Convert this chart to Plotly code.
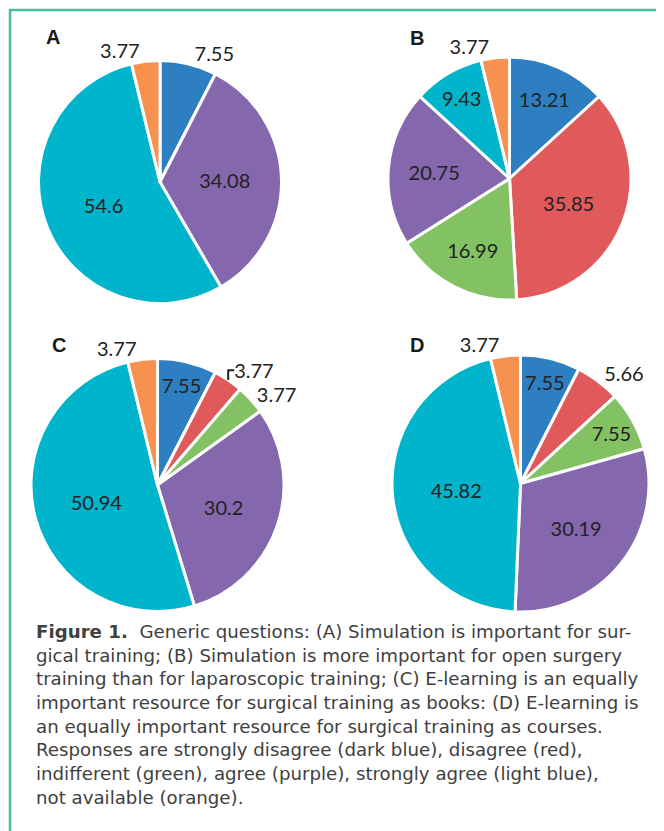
import plotly.graph_objects as go

# Page body has an 8px default margin; figure coordinates are page coordinates minus OFF
OFF = 8
W, H = 656, 823

categories = ["Strongly disagree", "Disagree", "Indifferent", "Agree", "Strongly agree", "Not available"]
colors = ["#2E7FC2", "#E05A5B", "#83C262", "#8467AC", "#00B4CB", "#F6914F"]

values_A = [7.55, 0, 0, 34.08, 54.6, 3.77]
values_B = [13.21, 35.85, 16.99, 20.75, 9.43, 3.77]
values_C = [7.55, 3.77, 3.77, 30.2, 50.94, 3.77]
values_D = [7.55, 5.66, 7.55, 30.19, 45.82, 3.77]

panel_letters = ["A", "B", "C", "D"]

caption_lines = [
    "<b>Figure 1.</b>  Generic questions: (A) Simulation is important for sur-",
    "gical training; (B) Simulation is more important for open surgery",
    "training than for laparoscopic training; (C) E-learning is an equally",
    "important resource for surgical training as books: (D) E-learning is",
    "an equally important resource for surgical training as courses.",
    "Responses are strongly disagree (dark blue), disagree (red),",
    "indifferent (green), agree (purple), strongly agree (light blue),",
    "not available (orange).",
]

pos_A = ["outside", "inside", "inside", "inside", "inside", "outside"]
pos_B = ["inside", "inside", "inside", "inside", "inside", "outside"]
pos_C = ["inside", "outside", "outside", "inside", "inside", "outside"]
pos_D = ["inside", "outside", "inside", "inside", "inside", "outside"]


def px(x):
    return (x - OFF) / W


def py(y):
    return 1 - (y - OFF) / H


def dom(cx, cy, r):
    return dict(x=[px(cx - r), px(cx + r)], y=[py(cy + r), py(cy - r)])


panels = [
    (values_A, pos_A, dom(160, 182, 121.5)),
    (values_B, pos_B, dom(509.5, 178.5, 121.5)),
    (values_C, pos_C, dom(157.5, 485, 126.5)),
    (values_D, pos_D, dom(520.5, 483.5, 128.5)),
]

fig = go.Figure()
for vals, pos, d in panels:
    fig.add_trace(go.Pie(
        labels=categories,
        values=vals,
        text=[str(v) if v > 0 else "" for v in vals],
        texttemplate="%{text}",
        textposition=pos,
        insidetextorientation="horizontal",
        sort=False,
        direction="clockwise",
        rotation=0,
        marker=dict(colors=colors, line=dict(color="white", width=3)),
        textfont=dict(family="Lato", size=20, color="#222222"),
        domain=d,
        showlegend=False,
        hoverinfo="label+value",
    ))

letter_pos = [(52.5, 37), (417, 38), (58.5, 344.5), (416.5, 344.5)]
annotations = []
for L, (x, y) in zip(panel_letters, letter_pos):
    annotations.append(dict(
        text=L, x=px(x), y=py(y), xref="paper", yref="paper",
        showarrow=False, xanchor="center", yanchor="middle",
        font=dict(family="Liberation Sans", size=20, color="#1a1a1a", weight="bold"),
    ))

annotations.append(dict(
    text="<br>".join(caption_lines), x=px(34), y=py(619),
    xref="paper", yref="paper", showarrow=False, xanchor="left", yanchor="top",
    align="left",
    font=dict(family="DejaVu Sans", size=18.2, color="#404040"),
))

fig.update_layout(
    width=W, height=H,
    margin=dict(l=0, r=0, t=0, b=0),
    paper_bgcolor="white", plot_bgcolor="white",
    uniformtext=dict(minsize=20, mode="show"),
    annotations=annotations,
    shapes=[dict(type="rect", xref="paper", yref="paper",
                 x0=px(10), x1=1.1, y0=-0.1, y1=py(10),
                 line=dict(color="#4BBE96", width=2.5))],
)

fig.write_html("out.html")
